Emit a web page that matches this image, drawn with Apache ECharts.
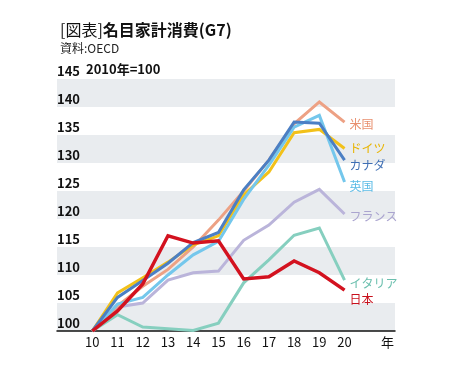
<!DOCTYPE html>
<html lang="ja">
<head>
<meta charset="UTF-8">
<title>名目家計消費(G7)</title>
<style>
    * { margin: 0; padding: 0; }
    html, body { width: 100%; height: 100%; background: #fff; overflow: hidden; }
    #box { width: 449px; height: 376px; }
</style>
</head>
<body>
<div id="box"></div>
<script src="https://cdn.jsdelivr.net/npm/echarts@6/dist/echarts.min.js"></script>
<script>
    // 年 (2010年=10)
    var years = [10, 11, 12, 13, 14, 15, 16, 17, 18, 19, 20];

    // 2010年=100
    var usa     = [100, 104.5, 108.0, 111.0, 115.0, 119.8, 125.0, 130.5, 137.0, 140.9, 137.3];
    var germany = [100, 106.8, 109.5, 112.3, 115.4, 117.0, 124.3, 128.4, 135.4, 136.0, 132.6];
    var canada  = [100, 106.0, 109.0, 112.1, 115.8, 117.6, 125.2, 130.5, 137.3, 137.1, 130.5];
    var uk      = [100, 104.8, 106.0, 110.0, 113.6, 116.0, 123.5, 129.6, 136.4, 138.5, 126.6];
    var france  = [100, 104.3, 105.0, 109.1, 110.4, 110.7, 116.2, 118.9, 123.0, 125.3, 120.9];
    var italy   = [100, 102.9, 100.7, 100.4, 100.1, 101.4, 108.6, 112.7, 117.1, 118.4, 109.1];
    var japan   = [100, 103.6, 108.4, 117.0, 115.7, 116.1, 109.3, 109.7, 112.5, 110.4, 107.3];

    var xTicks = [10, 11, 12, 13, 14, 15, 16, 17, 18, 19, 20];
    var yMin = 100, yMax = 145, yStep = 5;

    var FONT = '"Noto Sans CJK JP", "Noto Sans", sans-serif';

    function pairs(vals) {
        var res = [];
        for (var i = 0; i < years.length; i++) {
            res.push([years[i], vals[i]]);
        }
        return res;
    }

    function line(name, vals, color, labelColor, dy, w) {
        return {
            name: name,
            type: 'line',
            data: pairs(vals),
            symbol: 'none',
            silent: true,
            lineStyle: { color: color, width: w || 3, join: 'miter' },
            endLabel: {
                show: true,
                formatter: name,
                color: labelColor,
                fontFamily: FONT,
                fontSize: 12,
                distance: 5,
                offset: [0, dy]
            }
        };
    }

    var box = echarts.init(document.getElementById('box'));
    var option = {
        backgroundColor: '#fff',
        animation: false,
        title: {
            left: 55,
            top: 17,
            text: '{a|[図表]}{b|名目家計消費(G7)}',
            subtext: '資料:OECD',
            itemGap: 4,
            textStyle: {
                rich: {
                    a: { fontFamily: FONT, fontSize: 16, fontWeight: 'normal', color: '#111' },
                    b: { fontFamily: FONT, fontSize: 16, fontWeight: 'bold', color: '#111' }
                }
            },
            subtextStyle: { fontFamily: FONT, fontSize: 12, color: '#222' }
        },
        graphic: [{
            type: 'text',
            left: 86,
            top: 63,
            style: {
                text: '2010年=100',
                font: 'bold 13px ' + FONT,
                fill: '#111'
            }
        }],
        grid: { left: 57, right: 54, top: 79, bottom: 45 },
        xAxis: {
            type: 'value',
            min: 8.6,
            max: 22,
            axisLine: { show: true, lineStyle: { color: '#111', width: 1.5 } },
            axisTick: { show: false },
            splitLine: { show: false },
            axisLabel: {
                customValues: xTicks.concat([21.7]),
                margin: 5,
                color: '#111',
                fontFamily: FONT,
                fontSize: 13,
                formatter: function (v) { return v > 21 ? '年' : String(v); }
            }
        },
        yAxis: {
            type: 'value',
            min: yMin,
            max: yMax,
            interval: yStep,
            axisLine: { show: false },
            axisTick: { show: false },
            splitLine: { show: false },
            splitArea: { show: true, areaStyle: { color: ['#e9ecef', '#ffffff'] } },
            axisLabel: {
                inside: true,
                margin: 0,
                verticalAlign: 'bottom',
                color: '#111',
                fontFamily: FONT,
                fontSize: 13,
                fontWeight: 'bold',
                lineHeight: 15
            }
        },
        series: [
            line('イタリア', italy, '#86cfbf', '#6bbfae', 3),
            line('フランス', france, '#bab4da', '#aaa4cf', 2),
            line('米国', usa, '#eda184', '#e8906f', 2),
            line('ドイツ', germany, '#f2c11a', '#e8b400', 0),
            line('英国', uk, '#74c7ec', '#5bbbe6', 4),
            line('カナダ', canada, '#4b7fc4', '#3f6fb4', 5),
            line('日本', japan, '#d3121f', '#c8101c', 9, 3.5)
        ]
    };
    box.setOption(option);
</script>
</body>
</html>
